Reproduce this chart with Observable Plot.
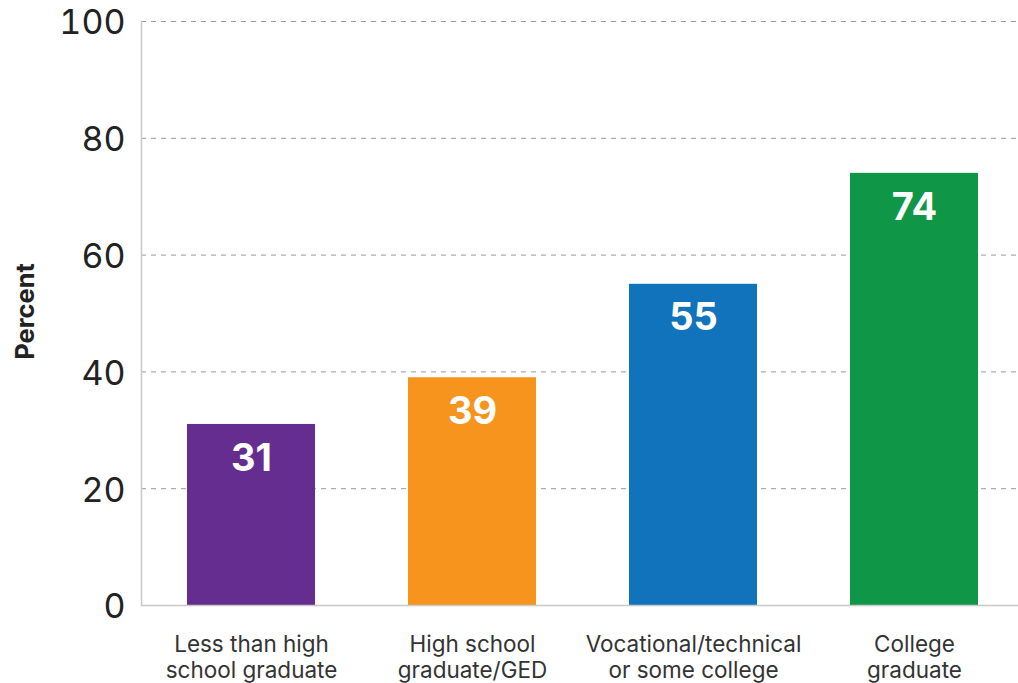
<!DOCTYPE html>
<html><head>
<meta charset="utf-8">
<script src="https://cdn.jsdelivr.net/npm/d3@7"></script>
<script src="https://cdn.jsdelivr.net/npm/@observablehq/plot@0.6"></script>
<style>body{margin:0;background:#fff}</style>
</head><body><div id="chart"></div>
<script>
const categories = ["Less than high\nschool graduate", "High school\ngraduate/GED", "Vocational/technical\nor some college", "College\ngraduate"];
const values = [31, 39, 55, 74];
const colors = ["#662d91", "#f7941d", "#1173bb", "#0f9647"];
const yTicks = [0, 20, 40, 60, 80, 100];
const yLabel = "Percent";

const data = categories.map((c, i) => ({category: c, value: values[i], color: colors[i]}));

const chart = Plot.plot({
  width: 1018, height: 683,
  marginLeft: 141, marginRight: -6, marginTop: 21, marginBottom: 78,
  style: {fontFamily: "Inter, sans-serif", background: "#fff", overflow: "visible"},
  x: {domain: categories, paddingInner: 0.4226, paddingOuter: 0.203, label: null},
  y: {domain: [0, 100], label: null},
  marks: [
    Plot.gridY(yTicks.slice(1), {stroke: "#9a9a9a", strokeOpacity: 1, strokeDasharray: "5,5"}),
    Plot.barY(data, {x: "category", y: "value", fill: "color"}),
    Plot.ruleY([0], {stroke: "#c8c8c8", strokeWidth: 1.5}),
    Plot.frame({anchor: "left", stroke: "#c8c8c8", strokeWidth: 1.5}),
    Plot.axisY(yTicks, {tickSize: 0, tickPadding: 16, fontSize: 34, fill: "#222", label: null, dy: 2}),
    Plot.axisX({tickSize: 0, tickPadding: 28, fontSize: 22.5, lineHeight: 1.15, fill: "#333", label: null}),
    Plot.text(data, {x: "category", y: "value", text: d => String(d.value), dy: 34, fill: "white", fontSize: 38, fontWeight: "bold"}),
    Plot.text([yLabel], {frameAnchor: "left", textAnchor: "middle", rotate: -90, dx: -116, dy: -2, fontSize: 25.5, fontWeight: "bold", fill: "#222"})
  ]
});
document.getElementById("chart").appendChild(chart);
</script>
</body></html>
